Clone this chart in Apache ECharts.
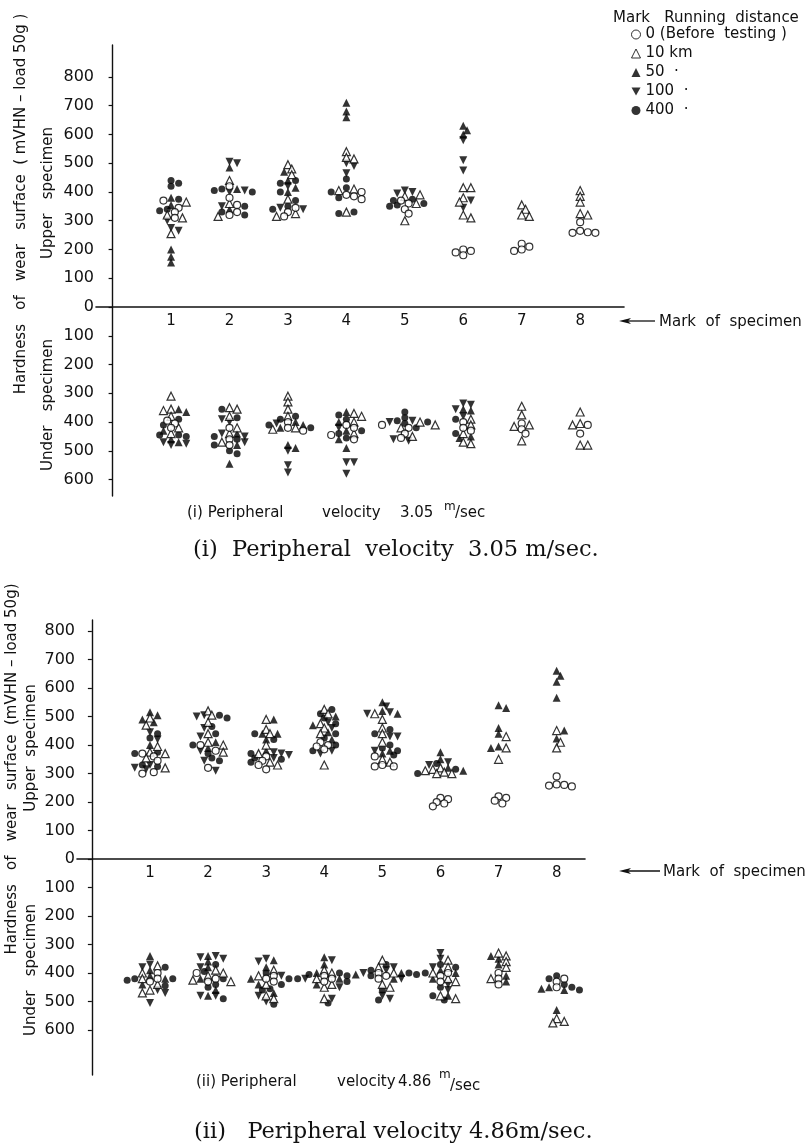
<!DOCTYPE html>
<html><head><meta charset="utf-8">
<script src="https://cdn.jsdelivr.net/npm/echarts@6/dist/echarts.min.js"></script>
<style>html,body{margin:0;padding:0;background:#fff}#c{width:811px;height:1146px}</style>
</head><body><div id="c"></div><script>
// ---------------- data ----------------
const CATEGORIES = [1, 2, 3, 4, 5, 6, 7, 8];
const UPPER_TICKS = [0, 100, 200, 300, 400, 500, 600, 700, 800];
const UNDER_TICKS = [100, 200, 300, 400, 500, 600];
const MARK_NAMES = ['0 (Before  testing )', '10 km', '50  \u00b7', '100  \u00b7', '400  \u00b7'];

// Panel (i) 3.05 m/sec, upper specimen, per specimen mark 1..8
const P1_UP_0   = [[370,345,330,310],[420,380,355,330,320],[345,330,315],[400,390,385,375],[370,360,340,325],[200,195,190,180],[220,210,200,195],[295,265,260,258,258]];
const P1_UP_10  = [[365,320,310,255],[440,360,315],[495,480,460,375,325,315],[540,520,515,410,405,330],[390,385,360,300],[415,415,380,365,320,310],[355,340,320,315],[405,385,365,325,320]];
const P1_UP_50  = [[380,355,200,175,155],[485,410,340],[470,440,415,400],[710,680,660],[],[630,615,600],[],[]];
const P1_UP_100 = [[300,275,265],[505,500,405,400,350],[420,345,340],[500,490,465],[405,400,395],[580,510,475,370,345],[],[]];
const P1_UP_400 = [[440,430,420,375,340,335],[410,405,400,350,330,320],[440,430,400,370,350,340],[445,415,400,380,330,325],[375,370,360,355,350],[],[],[]];
// Panel (i), under specimen
const P1_UN_0   = [[395,405,420],[420,460,480],[400,420,430],[410,420,445,460],[410,420,440,455],[400,420,430],[405,425,440],[410,440]];
const P1_UN_10  = [[310,355,360,380,420,440],[350,355,380,420,440,470],[310,330,355,380,420,425],[370,380,400,440],[400,410,420,450],[390,410,440,470,475],[345,375,410,415,465],[365,405,410,480,480]];
const P1_UN_50  = [[355,365,430,460,470],[440,480,545],[400,410,420,480,490],[365,400,430,460,490],[],[355,360,450,455],[],[]];
const P1_UN_100 = [[470,475,480],[390,400,440,450,470],[405,500,550,575],[420,540,540,580],[395,400,460,465],[335,340,355,380],[],[]];
const P1_UN_400 = [[390,410,445,450,445],[355,385,450,460,480,500,510],[380,390,410,420],[375,390,430,440,455],[365,385,395,400,405,420],[390,440],[],[]];

// Panel (ii) 4.86 m/sec, upper specimen
const P2_UP_0   = [[370,360,345,305,300],[400,380,320],[360,345,330,315],[410,400,395,385],[360,330,325,325],[215,210,200,195,185],[220,215,205,195],[290,262,258,255,260]];
const P2_UP_10  = [[495,470,395,375,370,355,320],[520,505,480,440,410,400,375],[490,455,440,400,370,340,330],[525,510,475,460,440,330],[510,490,460,440,410,350,340],[320,315,310,305,300,300],[430,390,350],[451,410,390]];
const P2_UP_50  = [[515,505,490,480,400],[410,390],[490,440,440,420,380],[500,470,445,420],[550,520,510,380,370],[375,350,320,310],[540,530,460,440,395,390],[661,643,622,566,451,423]];
const P2_UP_100 = [[445,420,330,320,315],[505,500,460,430,380,345,310],[375,370,365,355],[480,460,380,370],[535,515,510,430,430,380],[340,330],[],[]];
const P2_UP_400 = [[440,425,375,370,330,325],[505,495,465,440,400,370,355,345],[440,420,370,355,350,340],[525,510,495,475,440,425,400,380],[455,440,400,390,380,365],[335,315,300],[],[]];
// Panel (ii), under specimen
const P2_UN_0   = [[400,420,430],[400,420,430],[410,420,430],[410,420,430],[400,410,420],[400,410,430],[400,420,440],[420,430,450]];
const P2_UN_10  = [[375,400,420,440,460,470],[390,400,410,425,430],[390,410,440,480,490],[390,400,420,440,450,490],[355,380,400,440,450],[355,380,400,420,430,480,490],[330,340,360,380,420],[560,570,575]];
const P2_UN_50  = [[340,390,410,420,440],[340,360,380,420,460,480],[355,380,420,440,470],[345,370,400,420,440],[400,405,420],[390,400,420,480],[340,350,370,410,430],[450,455,460,530]];
const P2_UN_100 = [[370,380,460,470,505],[340,345,350,380,480,480],[350,360,410,480,500],[355,420,450,490],[380,390,400,420,480,490],[330,350,380,440,460],[],[]];
const P2_UN_400 = [[380,420,420,425,445],[370,395,420,440,450,490],[400,420,440,455,460,510],[400,405,410,420,430,505],[370,390,400,405,410,460,495],[370,380,400,450,480,495],[],[410,420,440,450,460]];

// ---------------- layout ----------------
const FONT = "'DejaVu Sans', 'Liberation Sans', sans-serif";
const SERIF = "'DejaVu Serif', 'Liberation Serif', serif";
const PANELS = [
  {left: 96, top: 45, width: 528, height: 451, ymin: -657, ymax: 911, xmin: -0.284, xmax: 8.75,
   up: [P1_UP_0, P1_UP_10, P1_UP_50, P1_UP_100, P1_UP_400], un: [P1_UN_0, P1_UN_10, P1_UN_50, P1_UN_100, P1_UN_400]},
  {left: 77, top: 620, width: 508, height: 455, ymin: -758, ymax: 839, xmin: -0.256, xmax: 8.488,
   up: [P2_UP_0, P2_UP_10, P2_UP_50, P2_UP_100, P2_UP_400], un: [P2_UN_0, P2_UN_10, P2_UN_50, P2_UN_100, P2_UN_400]}
];

// deterministic swarm placement of each specimen's points
function swarm(p) {
  const pxX = p.width / (p.xmax - p.xmin);
  const pxY = p.height / (p.ymax - p.ymin);
  const out = [[], [], [], [], []];
  for (let c = 0; c < CATEGORIES.length; c++) {
    const items = [];
    for (let s = 0; s < 5; s++) {
      p.up[s][c].forEach(v => items.push({s, v}));
      p.un[s][c].forEach(v => items.push({s, v: -v}));
    }
    items.sort((a, b) => b.v - a.v || a.s - b.s);
    const placed = [];
    const D = 5.2, STEP = 3.8;
    items.forEach(it => {
      const py = it.v * pxY;
      let dx = 0;
      for (let k = 0; k < 60; k++) {
        const off = (k % 2 === 1 ? 1 : -1) * Math.ceil(k / 2) * STEP;
        if (placed.every(q => (q.dx - off) ** 2 + (q.py - py) ** 2 >= D * D)) { dx = off; break; }
      }
      placed.push({dx, py});
      out[it.s].push([CATEGORIES[c] + dx / pxX, it.v]);
    });
  }
  return out;
}

const OPEN = {color: '#fff', borderColor: '#000', borderWidth: 1.2};
const FILLED = {color: '#000', borderColor: '#000', borderWidth: 0};
const DOWN_TRI = 'path://M0,0L10,0L5,9Z';
const STYLES = [
  {symbol: 'circle', symbolSize: 7, itemStyle: OPEN},
  {symbol: 'triangle', symbolSize: 8, itemStyle: OPEN},
  {symbol: 'triangle', symbolSize: 8, itemStyle: FILLED},
  {symbol: DOWN_TRI, symbolSize: 8, itemStyle: FILLED},
  {symbol: 'circle', symbolSize: 7, itemStyle: FILLED}
];
const DRAW_ORDER = [4, 3, 2, 1, 0];

const grids = [], xAxes = [], yAxes = [], series = [];
PANELS.forEach((p, i) => {
  const zeroFromBottom = p.height * (0 - p.ymin) / (p.ymax - p.ymin);
  grids.push({left: p.left, top: p.top, width: p.width, height: p.height, containLabel: false, outerBoundsMode: 'none'});
  xAxes.push({
    type: 'value', gridIndex: i, min: p.xmin, max: p.xmax, position: 'bottom', offset: -zeroFromBottom,
    axisLine: {show: true, onZero: false, lineStyle: {color: '#111', width: 1.6}},
    axisTick: {show: false}, splitLine: {show: false},
    axisLabel: {show: true, customValues: CATEGORIES, formatter: v => String(Math.round(v)), color: '#111', fontSize: 15, fontFamily: FONT, margin: 7}
  });
  const tickVals = UPPER_TICKS.concat(UNDER_TICKS.map(v => -v));
  yAxes.push({
    type: 'value', gridIndex: i, min: p.ymin, max: p.ymax,
    axisLine: {show: true, lineStyle: {color: '#111', width: 1.4}},
    axisTick: {show: true, customValues: tickVals, length: 4, inside: false, lineStyle: {color: '#111', width: 1.2}},
    axisLabel: {show: true, customValues: tickVals, formatter: v => String(Math.abs(Math.round(v))), color: '#111', fontSize: 16, fontFamily: FONT, margin: 2},
    splitLine: {show: false}
  });
  const data = swarm(p);
  DRAW_ORDER.forEach(s => {
    series.push(Object.assign({
      type: 'scatter', name: MARK_NAMES[s], xAxisIndex: i, yAxisIndex: i,
      data: data[s], silent: true, animation: false, emphasis: {disabled: true}
    }, STYLES[s]));
  });
});

function vtext(x, y, text, size) {
  return {type: 'text', x, y, rotation: Math.PI / 2, style: {text, font: size + 'px ' + FONT, fill: '#111', align: 'center', verticalAlign: 'middle'}};
}
function htext(x, y, text, size, family, extra) {
  return {type: 'text', x, y, style: Object.assign({text, font: size + 'px ' + (family || FONT), fill: '#111', align: 'left', verticalAlign: 'middle'}, extra || {})};
}
function arrow(x1, x2, y) {
  return [
    {type: 'line', shape: {x1: x1 + 8, y1: y, x2: x2, y2: y}, style: {stroke: '#111', lineWidth: 1.3}},
    {type: 'polygon', shape: {points: [[x1, y], [x1 + 12, y - 3], [x1 + 9, y], [x1 + 12, y + 3]]}, style: {fill: '#111'}}
  ];
}

const graphics = [
  htext(613, 18, 'Mark   Running  distance', 15),
  // panel (i)
  vtext(21, 204, 'Hardness   of   wear   surface  ( mVHN \u2013 load 50g )', 15),
  vtext(48, 193, 'Upper   specimen', 15),
  vtext(48, 405, 'Under   specimen', 15),
  htext(659, 322, 'Mark  of  specimen', 15),
  ...arrow(619, 655, 321),
  htext(187, 513, '(i) Peripheral', 15),
  htext(322, 513, 'velocity', 15),
  htext(400, 513, '3.05', 15),
  htext(444, 507, 'm', 12),
  htext(455, 513, '/sec', 15),
  htext(193, 550, '(i)  Peripheral  velocity  3.05 m/sec.', 22.5, SERIF),
  // panel (ii)
  vtext(12, 769, 'Hardness   of   wear   surface  (mVHN \u2013 load 50g)', 15),
  vtext(31, 748, 'Upper  specimen', 15),
  vtext(31, 970, 'Under   specimen', 15),
  htext(663, 872, 'Mark  of  specimen', 15),
  ...arrow(619, 660, 871),
  htext(196, 1082, '(ii) Peripheral', 15),
  htext(337, 1082, 'velocity', 15),
  htext(398, 1082, '4.86', 15),
  htext(439, 1075, 'm', 12),
  htext(450, 1086, '/sec', 15),
  htext(194, 1132, '(ii)   Peripheral velocity 4.86m/sec.', 22.5, SERIF)
];

const LEGEND_ICONS = ['circle', 'triangle', 'triangle', DOWN_TRI, 'circle'];
const LEGEND_STYLES = [
  {color: '#fff', borderColor: '#000', borderWidth: 1}, {color: '#fff', borderColor: '#000', borderWidth: 1},
  FILLED, FILLED, FILLED
];

const chart = echarts.init(document.getElementById('c'), null, {renderer: 'canvas'});
chart.setOption({
  backgroundColor: '#fff',
  animation: false,
  grid: grids, xAxis: xAxes, yAxis: yAxes, series,
  legend: {
    data: MARK_NAMES.map((n, k) => ({name: n, icon: LEGEND_ICONS[k], itemStyle: LEGEND_STYLES[k]})),
    orient: 'vertical', left: 631, top: 27, itemGap: 4, itemWidth: 9, itemHeight: 9,
    selectedMode: false, padding: 0,
    textStyle: {color: '#111', fontSize: 15, fontFamily: FONT, padding: [0, 0, 0, 0]}
  },
  graphic: graphics
});
</script></body></html>
